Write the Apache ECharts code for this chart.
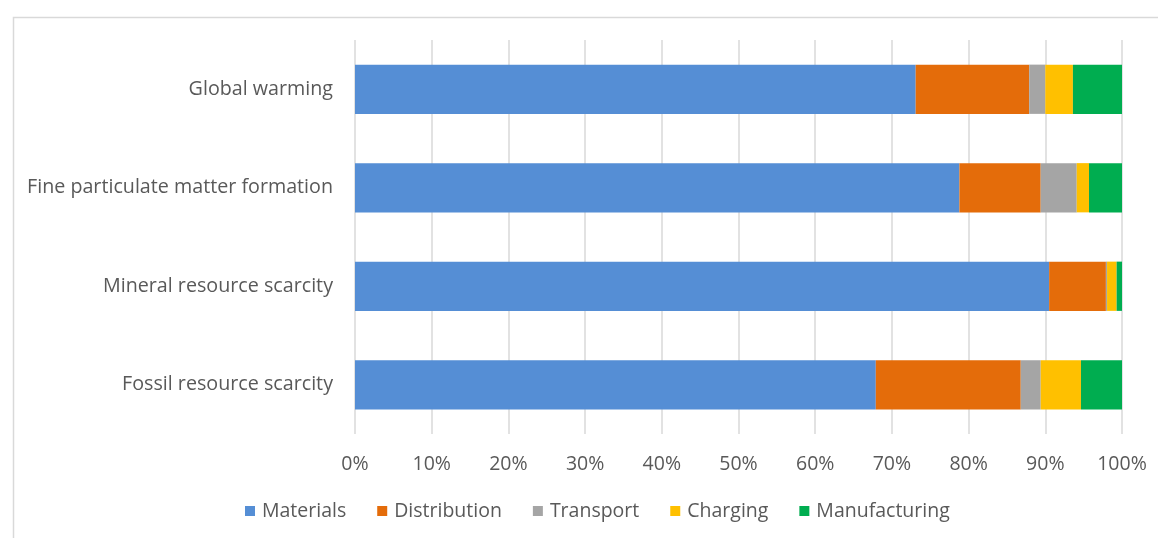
<!DOCTYPE html>
<html><head><meta charset="utf-8">
<script src="https://cdn.jsdelivr.net/npm/echarts@6/dist/echarts.min.js"></script>
<style>html,body{margin:0;padding:0;background:#fff}#c{width:1158px;height:538px}</style>
</head><body><div id="c"></div>
<script>
const categories = ["Fossil resource scarcity", "Mineral resource scarcity", "Fine particulate matter formation", "Global warming"];
const materials = [67.9, 90.5, 78.8, 73.1];
const distribution = [18.9, 7.4, 10.6, 14.8];
const transport = [2.6, 0.15, 4.7, 2.1];
const charging = [5.25, 1.25, 1.6, 3.6];
const manufacturing = [5.35, 0.7, 4.3, 6.4];
const seriesNames = ["Materials", "Distribution", "Transport", "Charging", "Manufacturing"];
const colors = ["#558ed5", "#e46c0a", "#a5a5a5", "#ffc000", "#00ad50"];
const values = [materials, distribution, transport, charging, manufacturing];
const font = "'Open Sans', 'Noto Sans', sans-serif";

const chart = echarts.init(document.getElementById('c'), null, {renderer: 'canvas'});
chart.setOption({
  animation: false,
  color: colors,
  graphic: [{
    type: 'rect', left: 11, top: 15, shape: {width: 1160, height: 540},
    style: {fill: 'none', stroke: '#d9d9d9', lineWidth: 1.5}, silent: true
  }],
  grid: {left: 355, right: 36, top: 40, bottom: 104},
  legend: {
    top: 496, left: 240, itemWidth: 10, itemHeight: 10, itemGap: 31,
    icon: 'rect',
    textStyle: {color: '#595959', fontSize: 19.5, fontFamily: font, padding: [0, 0, 0, 2]},
    data: seriesNames
  },
  xAxis: {
    type: 'value', min: 0, max: 100, interval: 10,
    axisLabel: {formatter: '{value}%', color: '#595959', fontSize: 19.5, fontFamily: font, margin: 20},
    axisLine: {show: false}, axisTick: {show: false},
    splitLine: {lineStyle: {color: '#d9d9d9', width: 1.5}}
  },
  yAxis: {
    type: 'category', data: categories,
    axisLabel: {color: '#595959', fontSize: 19.7, fontFamily: font, margin: 22},
    axisLine: {show: false}, axisTick: {show: false}
  },
  series: seriesNames.map((n, i) => ({
    name: n, type: 'bar', stack: 'total', data: values[i], barCategoryGap: '50%'
  }))
});
</script></body></html>
